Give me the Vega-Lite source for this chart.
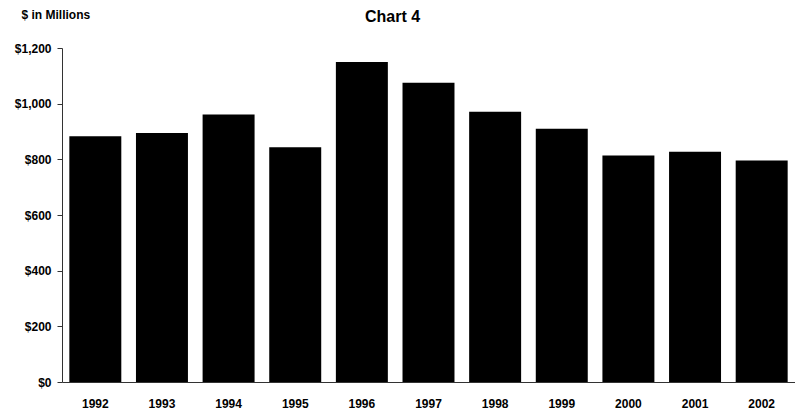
{
  "$schema": "https://vega.github.io/schema/vega-lite/v6.json",
  "autosize": "none",
  "width": 733,
  "height": 334,
  "padding": {"left": 62, "top": 48, "right": 0, "bottom": 34},
  "background": "white",
  "title": {
    "text": "Chart 4",
    "font": "Liberation Sans",
    "fontSize": 16,
    "fontWeight": "bold",
    "color": "black",
    "anchor": "middle",
    "frame": "group",
    "dx": -36,
    "offset": -17
  },
  "data": {
    "values": [
      {"year": "1992", "value": 883},
      {"year": "1993", "value": 895},
      {"year": "1994", "value": 961},
      {"year": "1995", "value": 843},
      {"year": "1996", "value": 1150},
      {"year": "1997", "value": 1075},
      {"year": "1998", "value": 971},
      {"year": "1999", "value": 910},
      {"year": "2000", "value": 814},
      {"year": "2001", "value": 827},
      {"year": "2002", "value": 796}
    ]
  },
  "mark": {"type": "bar", "color": "black"},
  "encoding": {
    "x": {
      "field": "year",
      "type": "ordinal",
      "scale": {"paddingInner": 0.22, "paddingOuter": 0.11},
      "axis": {
        "title": null,
        "labelAngle": 0,
        "labelFont": "Liberation Sans",
        "labelFontSize": 12,
        "labelFontWeight": "bold",
        "labelColor": "black",
        "labelPadding": 16,
        "ticks": false,
        "domainColor": "#333",
        "domainWidth": 1
      }
    },
    "y": {
      "field": "value",
      "type": "quantitative",
      "scale": {"domain": [0, 1200], "nice": false},
      "axis": {
        "values": [0, 200, 400, 600, 800, 1000, 1200],
        "format": "$,.0f",
        "grid": false,
        "title": "$ in Millions",
        "titleAngle": 0,
        "titleAlign": "left",
        "titleBaseline": "alphabetic",
        "titleX": -41,
        "titleY": -30,
        "titleFont": "Liberation Sans",
        "titleFontSize": 12,
        "titleFontWeight": "bold",
        "titleColor": "black",
        "labelFont": "Liberation Sans",
        "labelFontSize": 12,
        "labelFontWeight": "bold",
        "labelColor": "black",
        "labelPadding": 6,
        "tickSize": 5,
        "tickColor": "#333",
        "domainColor": "#333"
      }
    }
  },
  "config": {"view": {"stroke": null}}
}
